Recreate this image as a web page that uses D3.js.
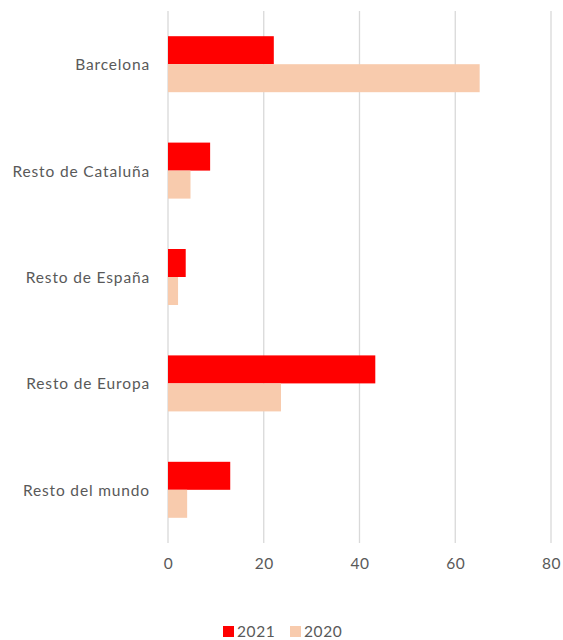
<!DOCTYPE html>
<html>
<head>
<meta charset="utf-8">
<script src="https://cdn.jsdelivr.net/npm/d3@7"></script>
<style>
  html, body { margin: 0; padding: 0; background: #fff; }
  svg { display: block; }
  text { font-family: Lato, "Open Sans", sans-serif; fill: #595959; }
</style>
</head>
<body>
<svg id="chart" width="563" height="640"></svg>
<script>
const categories = ["Barcelona", "Resto de Cataluña", "Resto de España", "Resto de Europa", "Resto del mundo"];
const seriesNames = ["2021", "2020"];
const values2021 = [22.1, 8.8, 3.7, 43.3, 13.0];
const values2020 = [65.1, 4.7, 2.1, 23.6, 4.0];
const xTicks = [0, 20, 40, 60, 80];
const colors = ["#ff0000", "#f8cbad"];

const seriesValues = [values2021, values2020];
const svg = d3.select("#chart");

const x = d3.scaleLinear().domain([0, 80]).range([168, 551]);
const y0 = d3.scaleBand().domain(categories).range([11, 543]).padding(0);
const y1 = d3.scaleBand().domain(seriesNames).range([0, y0.bandwidth()]).paddingInner(0).paddingOuter(0.9);

// gridlines
svg.append("g").selectAll("line").data(xTicks).join("line")
  .attr("x1", d => x(d)).attr("x2", d => x(d))
  .attr("y1", 11).attr("y2", 543)
  .attr("stroke", "#d9d9d9").attr("stroke-width", 1.3);

// bars
const groups = svg.append("g").selectAll("g").data(categories).join("g")
  .attr("transform", d => `translate(0,${y0(d)})`);
groups.selectAll("rect").data((c, i) => seriesNames.map((s, j) => ({ s, v: seriesValues[j][i], j })))
  .join("rect")
  .attr("x", x(0))
  .attr("y", d => y1(d.s))
  .attr("width", d => x(d.v) - x(0))
  .attr("height", y1.bandwidth())
  .attr("fill", d => colors[d.j]);

// category labels
svg.append("g").selectAll("text").data(categories).join("text")
  .attr("x", 150)
  .attr("y", d => y0(d) + y0.bandwidth() / 2)
  .attr("text-anchor", "end")
  .attr("dominant-baseline", "central")
  .style("font-size", "15.5px")
  .style("letter-spacing", "0.85px")
  .text(d => d);

// x axis tick labels
const xAxis = d3.axisBottom(x).tickValues(xTicks).tickSize(0).tickPadding(0).tickFormat(d3.format("d"));
const gx = svg.append("g").attr("transform", "translate(0,558)").call(xAxis);
gx.select(".domain").remove();
gx.selectAll("text").style("font-size", "15.5px").style("letter-spacing", "0.6px")
  .style("font-family", "Lato, 'Open Sans', sans-serif").attr("fill", "#595959");

// legend
const legendX = [223, 290];
const legend = svg.append("g").selectAll("g").data(seriesNames).join("g")
  .attr("transform", (d, i) => `translate(${legendX[i]},626)`);
legend.append("rect").attr("width", 11).attr("height", 11).attr("fill", (d, i) => colors[i]);
legend.append("text").attr("x", 14).attr("y", 10.5)
  .style("font-size", "15.5px").style("letter-spacing", "0.6px").text(d => d);
</script>
</body>
</html>
